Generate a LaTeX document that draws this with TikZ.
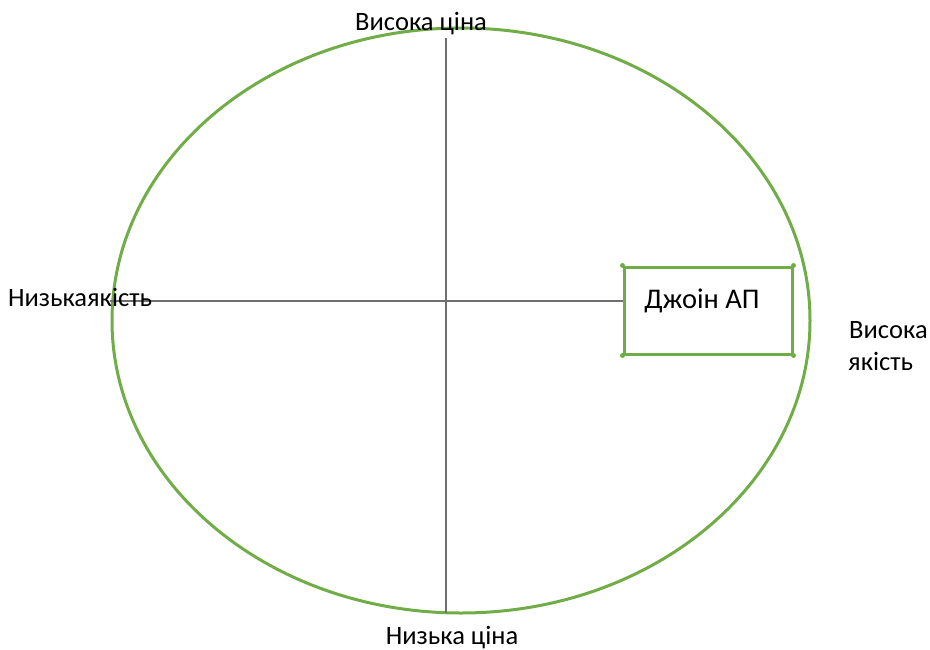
\documentclass[tikz,border=0pt]{standalone}
\usepackage{fontspec}
\setmainfont{Carlito}
\definecolor{grn}{HTML}{70AD47}
\definecolor{axis}{HTML}{6F6F6F}
\tikzset{
  lbl/.style={inner sep=0pt, font=\fontsize{26.5}{31}\selectfont, text=black},
  axisline/.style={draw=axis, line width=1.6pt},
  boxnode/.style={draw=grn, line width=3pt, minimum width=168pt, minimum height=87pt, inner sep=0pt},
  cornerdot/.style={circle, fill=grn, inner sep=0pt, minimum size=5pt}
}
\begin{document}
\begin{tikzpicture}[x=1pt,y=-1pt]
\useasboundingbox (0,0) rectangle (930,649);
\draw[grn, line width=3pt] (461,320.5) ellipse [x radius=349, y radius=292.5];
\node[boxnode] (box) at (708,310.5) {};
\node[font=\fontsize{28.5}{34}\selectfont, anchor=base, inner sep=0pt] (boxtxt) at (702,308) {Джоін АП};
\foreach \c in {north west,north east,south west,south east}
  \node[cornerdot] at (box.\c) {};
\coordinate (vtop) at (446,38);
\coordinate (vbot) at (446,613);
\coordinate (hleft) at (110,301);
\draw[axisline] (vtop) -- (vbot);
\draw[axisline] (hleft) -- (box.west |- hleft);
\node[lbl, anchor=base] (hp) at (421,30) {Висока ціна};
\node[lbl, anchor=base] (lp) at (452,644) {Низька ціна};
\node[lbl, anchor=base] (lq) at (80,306) {Низькаякість};
\node[lbl, anchor=base west] (hq1) at (849,338) {Висока};
\node[lbl, anchor=base west] (hq2) at (848,370) {якість};
\end{tikzpicture}
\end{document}
